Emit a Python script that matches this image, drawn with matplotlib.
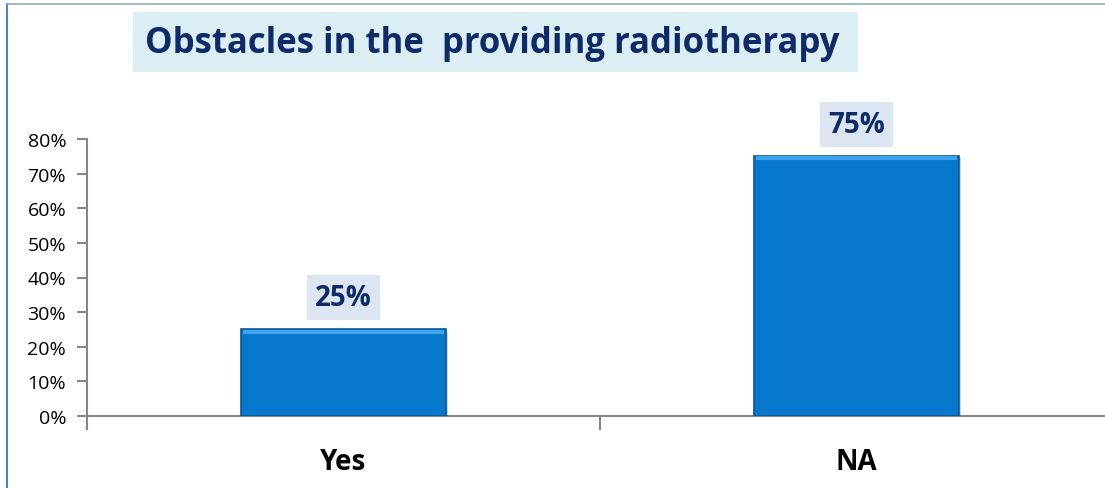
import matplotlib
matplotlib.use("Agg")
import matplotlib.pyplot as plt
import matplotlib.patheffects as pe
from matplotlib.patches import Rectangle

# data
categories = ["Yes", "NA"]
values = [0.25, 0.75]
value_labels = ["25%", "75%"]
y_ticks = [0, 0.1, 0.2, 0.3, 0.4, 0.5, 0.6, 0.7, 0.8]
y_tick_labels = ["0%", "10%", "20%", "30%", "40%", "50%", "60%", "70%", "80%"]
title = "Obstacles in the  providing radiotherapy"

NAVY = "#0E2A68"
BAR = "#0677CA"
GRAY = "#868686"

plt.rcParams['font.family'] = ['Open Sans', 'DejaVu Sans']

fig = plt.figure(figsize=(11.05, 4.89), dpi=100)
ax = fig.add_axes([87 / 1105, 72 / 489, 1026 / 1105, 277 / 489])

x = range(len(categories))
bars = ax.bar(x, values, width=0.4, color=BAR, edgecolor="#0B5894", linewidth=1.2, zorder=3)
for b in bars:
    b.set_path_effects([pe.SimplePatchShadow(offset=(1.5, -1.5), alpha=0.2), pe.Normal()])
    # light bevel along the top edge
    ax.plot([b.get_x() + 0.004, b.get_x() + b.get_width() - 0.004],
            [b.get_height() - 0.006, b.get_height() - 0.006],
            color="#3DA3EC", lw=3, zorder=4, solid_capstyle='butt')

ax.set_xlim(-0.5, 1.5)
ax.set_ylim(0, 0.8)

ax.set_yticks(y_ticks)
ax.set_yticklabels(y_tick_labels, fontsize=14)
ax.tick_params(axis='y', length=7, width=1.5, color=GRAY, pad=8)

ax.set_xticks(list(x))
ax.set_xticklabels(categories, fontsize=20, fontweight='bold')
ax.tick_params(axis='x', which='major', length=0, pad=22)
ax.set_xticks([-0.5, 0.5, 1.5], minor=True)
ax.tick_params(axis='x', which='minor', length=10, width=1.5, color=GRAY)

for s in ['top', 'right']:
    ax.spines[s].set_visible(False)
for s in ['left', 'bottom']:
    ax.spines[s].set_color(GRAY)
    ax.spines[s].set_linewidth(1.5)

# value labels
for xi, v, lab in zip(x, values, value_labels):
    ax.annotate(lab, (xi, v), xytext=(0, 23), textcoords='offset points',
                ha='center', va='center', fontsize=20, fontweight='bold', color=NAVY,
                bbox=dict(boxstyle='square,pad=0.3', fc='#DCE6F2', ec='none'))

# title box
fig.patches.append(Rectangle((133 / 1105, 1 - 73 / 489), 725 / 1105, 60 / 489,
                             transform=fig.transFigure, fc='#DAEEF3', ec='none'))
fig.text(492 / 1105, 1 - 44 / 489, title, ha='center', va='center', fontsize=25,
         fontweight='bold', color=NAVY)

# outer frame lines
fig.add_artist(plt.Line2D([7 / 1105, 7 / 1105], [0, 1 - 5 / 489], transform=fig.transFigure,
                          color="#4F81BD", lw=1.5))
fig.add_artist(plt.Line2D([7 / 1105, 1], [1 - 5 / 489, 1 - 5 / 489], transform=fig.transFigure,
                          color="#8EA9C8", lw=1.2))

fig.savefig("out.png", dpi=100)
